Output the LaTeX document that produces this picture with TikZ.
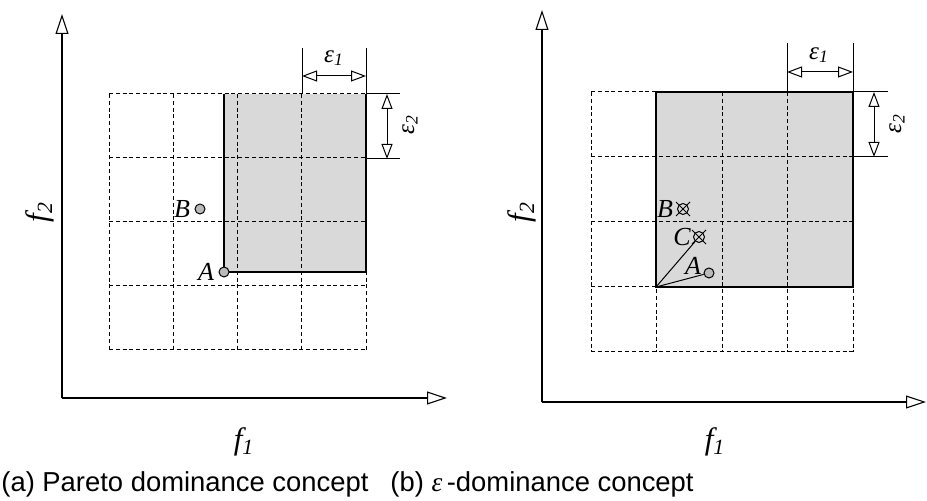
\documentclass[tikz,border=0pt]{standalone}
\usepackage{fontspec}
\setmainfont{Liberation Serif}
\setsansfont{Liberation Sans}
\usetikzlibrary{arrows.meta,positioning,calc}

\begin{document}
\begin{tikzpicture}[x=0.5pt, y=-0.5pt,
  every node/.style={font=\fontsize{13}{15}\selectfont\itshape, inner sep=1pt},
  axis/.style={line width=0.55pt, -{Triangle[open, length=10pt, width=6.5pt]}},
  dimline/.style={line width=0.5pt,
    {Triangle[open, length=7.5pt, width=5.5pt]}-{Triangle[open, length=7.5pt, width=5.5pt]}},
  extline/.style={line width=0.5pt},
  gridline/.style={line width=0.5pt, dash pattern=on 2pt off 1.4pt},
  region/.style={fill=black!15},
  edge/.style={line width=0.6pt},
  dot/.style={circle, draw, fill=black!27, minimum size=5pt, inner sep=0pt, line width=0.5pt},
  xdot/.style={circle, draw, minimum size=5.5pt, inner sep=0pt, line width=0.5pt},
  axislabel/.style={font=\fontsize{15.5}{17}\selectfont\itshape},
  epslabel/.style={font=\fontsize{12.5}{14}\selectfont\itshape},
  caption/.style={font=\fontsize{13.7}{16}\selectfont\sffamily, anchor=west, inner sep=0pt},
]
\useasboundingbox (0,0) rectangle (927,501);

%% (a) Pareto dominance: shaded region first, grid on top
\fill[region] (224,94) rectangle (366,272);
\foreach \i in {0,...,4} {
  \draw[gridline] (109+64.25*\i,94) -- (109+64.25*\i,350);
  \draw[gridline] (109,94+64*\i) -- (366,94+64*\i);
}
\draw[edge] (224,94) -- (224,272) -- (366,272) -- (366,94);

%% Axes
\coordinate (oa) at (62,398);
\coordinate (ya) at (62,14);
\coordinate (xa) at (447,398);
\draw[axis] (oa) -- (ya);
\draw[axis] (oa) -- (xa);

%% Box sizes
\draw[extline] (302,48) -- (302,94);
\draw[extline] (366,48) -- (366,94);
\draw[extline] (366,94) -- (400,94);
\draw[extline] (366,159) -- (400,159);
\coordinate (e1l) at (302,76);
\coordinate (e1r) at (366,76);
\coordinate (e2t) at (387,94);
\coordinate (e2b) at (387,159);
\draw[dimline] (e1l) -- (e1r);
\draw[dimline] (e2t) -- (e2b);
\node[epslabel] (eps1a) at (334,58) {ε\textsubscript{1}};
\node[epslabel, rotate=90] (eps2a) at (410,125) {ε\textsubscript{2}};

%% Points
\node[dot] (Aa) at (224,272) {};
\node[dot] (Ba) at (200,209) {};
\node[left=1pt of Aa] {A};
\node[left=1pt of Ba] {B};

%% Labels
\node[axislabel, rotate=90] (f2a) at (40,212) {f\textsubscript{2}};
\node[axislabel] (f1a) at (244,442) {f\textsubscript{1}};
\node[caption] (capa) at (1,484) {(a) Pareto dominance concept};

%% (b) epsilon dominance: shaded box of A
\fill[region] (656,92) rectangle (853,287);
\foreach \i in {0,...,4} {
  \draw[gridline] (591+65.5*\i,92) -- (591+65.5*\i,352);
  \draw[gridline] (591,92+65*\i) -- (853,92+65*\i);
}
\coordinate (corner) at (656,287);
\draw[edge] (656,92) -- (corner) -- (853,287) -- (853,92) -- cycle;

%% Axes
\coordinate (ob) at (542,402);
\coordinate (yb) at (542,10);
\coordinate (xb) at (926,402);
\draw[axis] (ob) -- (yb);
\draw[axis] (ob) -- (xb);

%% Box sizes
\draw[extline] (787,43) -- (787,92);
\draw[extline] (853,43) -- (853,92);
\draw[extline] (853,92) -- (888,92);
\draw[extline] (853,157) -- (888,157);
\coordinate (e1lb) at (787,72);
\coordinate (e1rb) at (853,72);
\coordinate (e2tb) at (874,92);
\coordinate (e2bb) at (874,157);
\draw[dimline] (e1lb) -- (e1rb);
\draw[dimline] (e2tb) -- (e2bb);
\node[epslabel] (eps1b) at (819,55) {ε\textsubscript{1}};
\node[epslabel, rotate=90] (eps2b) at (897,124) {ε\textsubscript{2}};

%% Points (B and C are dominated)
\node[dot] (Ab) at (709,273) {};
\node[xdot] (Bb) at (683,209) {};
\node[xdot] (Cb) at (699,237) {};
\foreach \p in {Bb,Cb} {
  \draw[line width=0.5pt] ($(\p)+(-7,-7)$) -- ($(\p)+(7,7)$);
  \draw[line width=0.5pt] ($(\p)+(-7,7)$) -- ($(\p)+(7,-7)$);
}
\draw[line width=0.5pt] (corner) -- (Cb);
\draw[line width=0.5pt] (corner) -- (Ab);
\node (lBb) at (665,209) {B};
\node (lCb) at (682,237) {C};
\node (lAb) at (693,266) {A};

%% Labels
\node[axislabel, rotate=90] (f2b) at (522,212) {f\textsubscript{2}};
\node[axislabel] (f1b) at (715,442) {f\textsubscript{1}};
\node[caption] (capb) at (390,484) {(b) {\rmfamily\itshape ε}\,-dominance concept};

\end{tikzpicture}
\end{document}
